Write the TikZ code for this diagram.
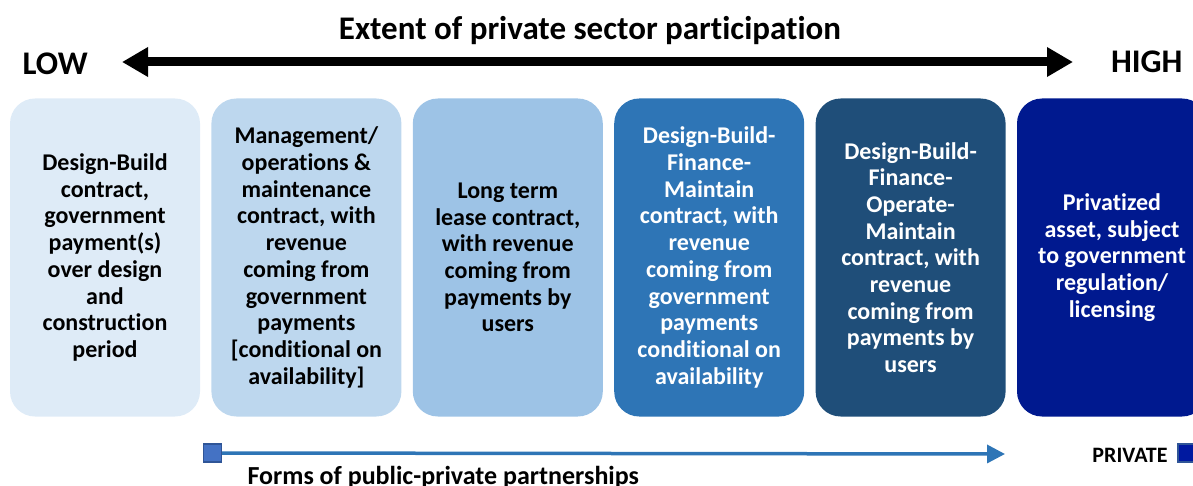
\documentclass[tikz,border=0pt]{standalone}
\usepackage{fontspec}
\setmainfont{Carlito}[Ligatures=NoCommon]
\usepackage{tikz}
\usetikzlibrary{positioning}
\usetikzlibrary{arrows.meta}

\definecolor{boxone}{HTML}{DEEBF7}
\definecolor{boxtwo}{HTML}{BDD7EE}
\definecolor{boxthree}{HTML}{9DC3E6}
\definecolor{boxfour}{HTML}{2E75B6}
\definecolor{boxfive}{HTML}{1F4E79}
\definecolor{boxsix}{HTML}{00198F}
\definecolor{pppblue}{HTML}{4472C4}
\definecolor{pppedge}{HTML}{2F5597}
\definecolor{privblue}{HTML}{0019A0}

\tikzset{
  stage/.style={rectangle, rounded corners=25pt, minimum width=190pt,
    minimum height=318pt, inner sep=0pt, align=center,
    font=\bfseries\fontsize{24}{26.7}\selectfont},
  marker/.style={rectangle, minimum size=18pt, inner sep=0pt, line width=1.2pt}
}

\begin{document}
\begin{tikzpicture}[x=1pt, y=-1pt]
  \useasboundingbox (0,0) rectangle (1193,486);
  % headings %
  \node[font=\bfseries\fontsize{33}{38}\selectfont, anchor=base] (title) at (590,40) {Extent of private sector participation};
  \node[font=\bfseries\fontsize{33}{38}\selectfont, anchor=base west] (low) at (19,75) {LOW};
  \node[font=\bfseries\fontsize{33}{38}\selectfont, anchor=base east] (high) at (1186,73) {HIGH};
  \coordinate (lowend) at (122,62);
  \coordinate (highend) at (1073,62);
  % stages %
  \node[stage, fill=boxone] (s1) at (105,257.5) {Design-Build\\contract,\\government\\payment(s)\\over design\\and\\construction\\period};
  \node[stage, fill=boxtwo, right=11pt of s1] (s2) {Management/\\operations \&\\maintenance\\contract, with\\revenue\\coming from\\government\\payments\\{[}conditional on\\availability{]}};
  \node[stage, fill=boxthree, right=11pt of s2] (s3) {Long term\\lease contract,\\with revenue\\coming from\\payments by\\users};
  \node[stage, fill=boxfour, text=white, right=11pt of s3] (s4) {Design-Build-\\Finance-\\Maintain\\contract, with\\revenue\\coming from\\government\\payments\\conditional on\\availability};
  \node[stage, fill=boxfive, text=white, right=11pt of s4] (s5) {Design-Build-\\Finance-\\Operate-\\Maintain\\contract, with\\revenue\\coming from\\payments by\\users};
  \node[stage, fill=boxsix, text=white, right=11pt of s5] (s6) {Privatized\\asset, subject\\to government\\regulation/\\licensing};
  % bottom legend %
  \node[marker, fill=pppblue, draw=pppedge] (pppsq) at (212.5,453) {};
  \coordinate (pppend) at (1005,454);
  \node[font=\bfseries\fontsize{26}{30}\selectfont, anchor=base west] (ppplabel) at (244,484) {Forms of public-private partnerships};
  \node[font=\bfseries\fontsize{22}{26}\selectfont, anchor=base east] (privlabel) at (1171,462) {PRIVATE};
  \node[marker, fill=privblue, draw=pppedge] (privsq) at (1187,453) {};
  % arrows %
  \draw[{Triangle[length=26pt,width=28pt]}-{Triangle[length=26pt,width=28pt]}, line width=9pt] (lowend) -- (highend);
  \draw[-{Triangle[length=18pt,width=18pt]}, line width=3.5pt, draw=boxfour, fill=boxfour] (pppsq.east) -- (pppend);
\end{tikzpicture}
\end{document}
